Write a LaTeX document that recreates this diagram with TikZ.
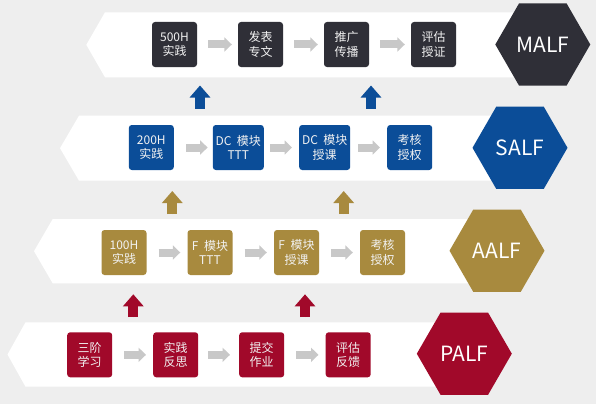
\documentclass[tikz,border=0pt]{standalone}
\usepackage{fontspec}
\setmainfont{Noto Sans CJK SC}
\usetikzlibrary{shapes.geometric,arrows.meta}
\definecolor{bgc}{HTML}{EEEEEE}
\definecolor{cdark}{HTML}{2F2F37}
\definecolor{cblue}{HTML}{0B4D98}
\definecolor{cgold}{HTML}{A88A3E}
\definecolor{cred}{HTML}{A1092A}
\definecolor{arrowgray}{HTML}{C8C8C8}
\definecolor{boxtext}{HTML}{F2F2F2}
\newcommand{\gapsp}{\hspace{0.45em}}
\begin{document}
\begin{tikzpicture}[x=1pt,y=-1pt,
  stepbox/.style={rounded corners=3pt, minimum width=45pt, minimum height=45pt, inner sep=0pt, align=center, text=boxtext, font=\fontsize{12}{14.5}\selectfont},
  widebox/.style={stepbox, minimum width=51pt},
  hexnode/.style={regular polygon, regular polygon sides=6, minimum size=95pt, inner sep=0pt, text=white, font=\fontsize{21}{21}\selectfont},
  flowarrow/.style={draw=arrowgray, line width=8pt, -{Triangle[width=14pt,length=7.5pt]}},
  uparrow/.style={line width=10pt, -{Triangle[width=20pt,length=12pt]}},
  band/.style={fill=white}
]
\fill[bgc] (0,0) rectangle (596,404);
\useasboundingbox (0,0) rectangle (596,404);

% bands
\fill[band] (86.3,44.8) -- (105,12.3) -- (542.8,12.3) -- (542.8,77.3) -- (105,77.3) -- cycle;
\fill[band] (60,148.2) -- (79,115.7) -- (520,115.7) -- (520,180.7) -- (79,180.7) -- cycle;
\fill[band] (34,251.2) -- (52.7,219) -- (497,219) -- (497,283.3) -- (52.7,283.3) -- cycle;
\fill[band] (7.5,354.5) -- (25.5,322.3) -- (464.3,322.3) -- (464.3,386.7) -- (25.5,386.7) -- cycle;

% hexagons
\node[hexnode, fill=cdark] (mh) at (542.8,44.5) {MALF};
\node[hexnode, fill=cblue] (sh) at (520,147.8) {SALF};
\node[hexnode, fill=cgold] (ah) at (497,250.7) {AALF};
\node[hexnode, fill=cred] (ph) at (464.3,353.7) {PALF};

% MALF row
\node[stepbox, fill=cdark] (m1) at (174.5,44.5) {500H\\实践};
\node[stepbox, fill=cdark] (m2) at (260.5,44.5) {发表\\专文};
\node[stepbox, fill=cdark] (m3) at (346.5,44.5) {推广\\传播};
\node[stepbox, fill=cdark] (m4) at (433.5,44.5) {评估\\授证};

% SALF row
\node[stepbox, fill=cblue] (s1) at (151.3,147.5) {200H\\实践};
\node[widebox, fill=cblue] (s2) at (238.3,147.5) {DC\gapsp 模块\\TTT};
\node[widebox, fill=cblue] (s3) at (324.7,147.5) {DC\gapsp 模块\\授课};
\node[stepbox, fill=cblue] (s4) at (409.7,147.5) {考核\\授权};

% AALF row
\node[stepbox, fill=cgold] (a1) at (124,252.5) {100H\\实践};
\node[stepbox, fill=cgold] (a2) at (210,252.5) {F\gapsp 模块\\TTT};
\node[stepbox, fill=cgold] (a3) at (296.5,252.5) {F\gapsp 模块\\授课};
\node[stepbox, fill=cgold] (a4) at (382.5,252.5) {考核\\授权};

% PALF row
\node[stepbox, fill=cred] (p1) at (89.7,354.8) {三阶\\学习};
\node[stepbox, fill=cred] (p2) at (175.7,354.8) {实践\\反思};
\node[stepbox, fill=cred] (p3) at (261.7,354.8) {提交\\作业};
\node[stepbox, fill=cred] (p4) at (348.2,354.8) {评估\\反馈};

% gray flow arrows
\draw[flowarrow] ([xshift=11pt]m1.east) -- ([xshift=-6pt]m2.west);
\draw[flowarrow] ([xshift=11pt]m2.east) -- ([xshift=-6pt]m3.west);
\draw[flowarrow] ([xshift=11pt]m3.east) -- ([xshift=-6pt]m4.west);
\draw[flowarrow] ([xshift=12pt]s1.east) -- ([xshift=-5pt]s2.west);
\draw[flowarrow] ([xshift=6pt]s2.east) -- ([xshift=-7pt]s3.west);
\draw[flowarrow] ([xshift=8pt]s3.east) -- ([xshift=-7pt]s4.west);
\draw[flowarrow] ([xshift=12pt]a1.east) -- ([xshift=-7pt]a2.west);
\draw[flowarrow] ([xshift=12pt]a2.east) -- ([xshift=-7pt]a3.west);
\draw[flowarrow] ([xshift=12pt]a3.east) -- ([xshift=-7pt]a4.west);
\draw[flowarrow] ([xshift=12pt]p1.east) -- ([xshift=-7pt]p2.west);
\draw[flowarrow] ([xshift=10pt]p2.east) -- ([xshift=-9pt]p3.west);
\draw[flowarrow] ([xshift=12pt]p3.east) -- ([xshift=-7pt]p4.west);

% up arrows between levels
\coordinate (bu1s) at (200,108.5); \coordinate (bu1e) at (200,85.5);
\coordinate (bu2s) at (371,108.5); \coordinate (bu2e) at (371,85.5);
\coordinate (gu1s) at (172.3,214); \coordinate (gu1e) at (172.3,191);
\coordinate (gu2s) at (343.7,214); \coordinate (gu2e) at (343.7,191);
\coordinate (ru1s) at (133.3,317); \coordinate (ru1e) at (133.3,294.3);
\coordinate (ru2s) at (305,317); \coordinate (ru2e) at (305,294.3);
\draw[uparrow, draw=cblue, fill=cblue] (bu1s) -- (bu1e);
\draw[uparrow, draw=cblue, fill=cblue] (bu2s) -- (bu2e);
\draw[uparrow, draw=cgold, fill=cgold] (gu1s) -- (gu1e);
\draw[uparrow, draw=cgold, fill=cgold] (gu2s) -- (gu2e);
\draw[uparrow, draw=cred, fill=cred] (ru1s) -- (ru1e);
\draw[uparrow, draw=cred, fill=cred] (ru2s) -- (ru2e);
\end{tikzpicture}
\end{document}
